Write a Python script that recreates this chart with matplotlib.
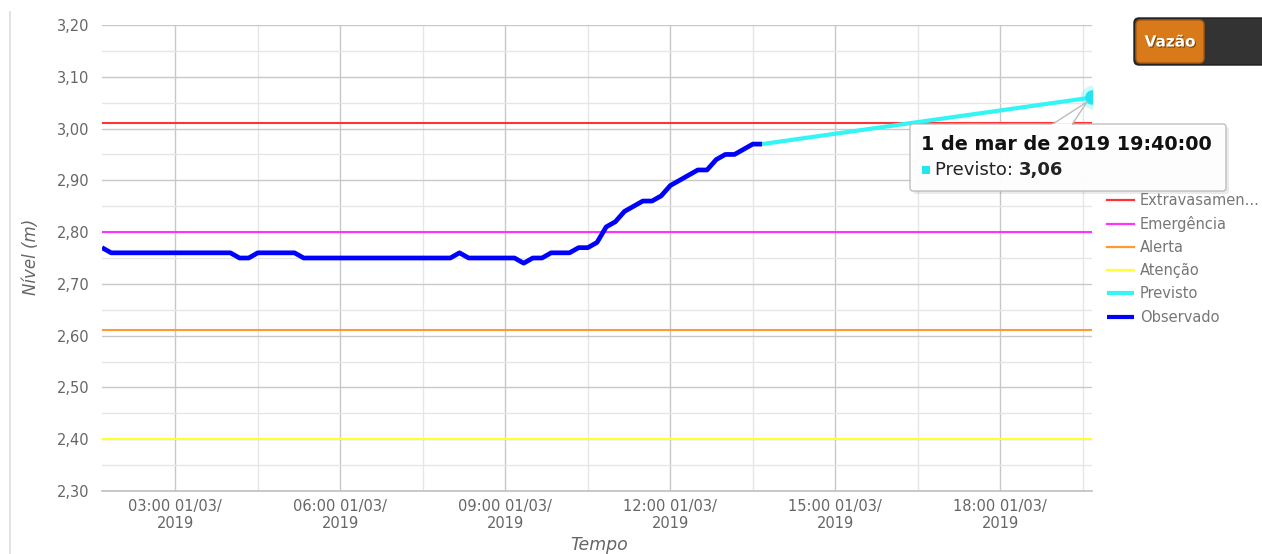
import matplotlib
matplotlib.use("Agg")
import matplotlib.pyplot as plt
from matplotlib.patches import FancyBboxPatch, Polygon
from matplotlib.lines import Line2D
import matplotlib.patheffects as pe
import pandas as pd

# ---------------- data ----------------
obs_start = "2019-03-01 01:40"
obs_freq = "10min"
observado = [
    2.77, 2.76,                                   # 01:40, 01:50
    2.76, 2.76, 2.76, 2.76, 2.76, 2.76,           # 02:00-02:50
    2.76, 2.76, 2.76, 2.76, 2.76, 2.76,           # 03:00-03:50
    2.76, 2.75, 2.75, 2.76, 2.76, 2.76,           # 04:00-04:50
    2.76, 2.76, 2.75, 2.75, 2.75, 2.75,           # 05:00-05:50
    2.75, 2.75, 2.75, 2.75, 2.75, 2.75,           # 06:00-06:50
    2.75, 2.75, 2.75, 2.75, 2.75, 2.75,           # 07:00-07:50
    2.75, 2.76, 2.75, 2.75, 2.75, 2.75,           # 08:00-08:50
    2.75, 2.75, 2.74, 2.75, 2.75, 2.76,           # 09:00-09:50
    2.76, 2.76, 2.77, 2.77, 2.78, 2.81,           # 10:00-10:50
    2.82, 2.84, 2.85, 2.86, 2.86, 2.87,           # 11:00-11:50
    2.89, 2.90, 2.91, 2.92, 2.92, 2.94,           # 12:00-12:50
    2.95, 2.95, 2.96, 2.97, 2.97,                 # 13:00-13:40
]
previsto_times = ["2019-03-01 13:40", "2019-03-01 19:40"]
previsto = [2.97, 3.06]

limiares_nomes = ["Extravasamen...", "Emergência", "Alerta", "Atenção"]
limiares_valores = [3.01, 2.80, 2.61, 2.40]
limiares_cores = ["#ff3333", "#ff33ff", "#ff9933", "#ffff33"]

x_range = ["2019-03-01 01:40", "2019-03-01 19:40"]
y_range = [2.30, 3.20]
xticks = ["2019-03-01 03:00", "2019-03-01 06:00", "2019-03-01 09:00",
          "2019-03-01 12:00", "2019-03-01 15:00", "2019-03-01 18:00"]
xtick_labels = ["03:00 01/03/\n2019", "06:00 01/03/\n2019", "09:00 01/03/\n2019",
                "12:00 01/03/\n2019", "15:00 01/03/\n2019", "18:00 01/03/\n2019"]
xminor = ["2019-03-01 04:30", "2019-03-01 07:30", "2019-03-01 10:30",
          "2019-03-01 13:30", "2019-03-01 16:30", "2019-03-01 19:30"]
yticks = [2.30, 2.40, 2.50, 2.60, 2.70, 2.80, 2.90, 3.00, 3.10, 3.20]
yminor = [2.35, 2.45, 2.55, 2.65, 2.75, 2.85, 2.95, 3.05, 3.15]

# ---------------- figure ----------------
W, H = 1262, 554
plt.rcParams["font.family"] = ["DejaVu Sans"]
fig = plt.figure(figsize=(W / 100, H / 100), dpi=100)

ax = fig.add_axes([102 / W, 1 - 491 / H, (1092 - 102) / W, (491 - 25) / H])
obs_t = pd.date_range(obs_start, periods=len(observado), freq=obs_freq)
prev_t = pd.to_datetime(previsto_times)

ax.set_xlim(pd.to_datetime(x_range[0]), pd.to_datetime(x_range[1]))
ax.set_ylim(*y_range)

# grid
ax.set_yticks(yticks)
ax.set_yticks(yminor, minor=True)
ax.set_yticklabels([f"{v:.2f}".replace(".", ",") for v in yticks])
ax.set_xticks(pd.to_datetime(xticks))
ax.set_xticks(pd.to_datetime(xminor), minor=True)
ax.set_xticklabels(xtick_labels, linespacing=1.15)
ax.grid(which="major", color="#c8c8c8", linewidth=1.0, zorder=0)
ax.grid(which="minor", color="#e6e6e6", linewidth=1.0, zorder=0)
ax.set_axisbelow(True)
ax.tick_params(which="both", length=0)
ax.tick_params(axis="y", pad=9, labelsize=10.5, labelcolor="#666666")
ax.tick_params(axis="x", pad=6, labelsize=10.5, labelcolor="#666666")
for s in ["top", "right", "left"]:
    ax.spines[s].set_visible(False)
ax.spines["bottom"].set_color("#c0c0c0")
ax.spines["bottom"].set_linewidth(1.2)

# threshold lines
handles = []
for nome, val, cor in zip(limiares_nomes, limiares_valores, limiares_cores):
    h = ax.axhline(val, color=cor, linewidth=1.5, zorder=2, label=nome)
    handles.append(h)

# series
hp, = ax.plot(prev_t, previsto, color="#33f5f5", linewidth=3.0, zorder=3,
              solid_capstyle="butt", label="Previsto")
ax.plot(prev_t[-1:], previsto[-1:], "o", color="#33f5f5", markersize=17,
        alpha=0.25, zorder=4, markeredgewidth=0)
ax.plot(prev_t[-1:], previsto[-1:], "o", color="#22e5f0", markersize=10.5,
        zorder=5, markeredgewidth=0)
ho, = ax.plot(obs_t, observado, color="#0000ff", linewidth=3.4, zorder=4,
              solid_joinstyle="round", solid_capstyle="butt", label="Observado")
handles += [hp, ho]

ax.set_ylabel("Nível (m)", fontsize=12, color="#666666", style="italic")
ax.set_xlabel("Tempo", fontsize=12.5, color="#666666", style="italic")
ax.yaxis.set_label_coords(-0.063, 0.503)
ax.xaxis.set_label_coords(0.502, -0.097)

leg = fig.legend(handles=handles, loc="upper left",
                 bbox_to_anchor=(1101 / W, 1 - 187 / H), frameon=False,
                 fontsize=10.5, handlelength=1.85, handletextpad=0.4,
                 labelspacing=0.56, borderaxespad=0)
for t in leg.get_texts():
    t.set_color("#777777")
for lh in leg.get_lines():
    if lh.get_label() in ("Previsto", "Observado"):
        lh.set_linewidth(3.0)
    else:
        lh.set_linewidth(1.6)

# ---------------- overlay (tooltip, button, border) ----------------
ov = fig.add_axes([0, 0, 1, 1], facecolor="none")
ov.set_xlim(0, W)
ov.set_ylim(H, 0)
ov.axis("off")

ov.add_line(Line2D([10, 10], [12, H], color="#dddddd", linewidth=1.2))

# tooltip
ov.add_patch(FancyBboxPatch((913, 127), 316, 67, boxstyle="round,pad=0,rounding_size=3",
                            facecolor="#000000", alpha=0.08, edgecolor="none", zorder=8))
ov.add_patch(FancyBboxPatch((910, 124), 316, 67, boxstyle="round,pad=0,rounding_size=3",
                            facecolor="white", alpha=0.95, edgecolor="#bbbbbb",
                            linewidth=1.0, zorder=9))
ov.add_patch(Polygon([[1052, 124.5], [1087, 102], [1072, 124.5]], closed=True,
                     facecolor="white", edgecolor="#bbbbbb", linewidth=1.0, zorder=9))
ov.add_line(Line2D([1053, 1071], [124.5, 124.5], color="white", linewidth=1.5, zorder=10))

t_last = prev_t[-1]
meses = ["jan", "fev", "mar", "abr", "mai", "jun", "jul", "ago", "set", "out", "nov", "dez"]
titulo = f"{t_last.day} de {meses[t_last.month - 1]} de {t_last.year} {t_last:%H:%M:%S}"
ov.text(921, 144, titulo, fontsize=13.8, fontweight="bold", color="#111111",
        va="center", ha="left", zorder=11)
ov.add_patch(plt.Rectangle((922, 166), 8, 8, facecolor="#22e5f0", edgecolor="none", zorder=11))
tp = ov.text(935, 170, "Previsto: ", fontsize=13, color="#222222", va="center",
             ha="left", zorder=11)
fig.canvas.draw()
bb = tp.get_window_extent()
ov.text(bb.x1, H - 170, f"{previsto[-1]:.2f}".replace(".", ","), fontsize=13,
        fontweight="bold", color="#222222", va="center", ha="left", zorder=11,
        transform=None)

# Vazão button
ov.add_patch(FancyBboxPatch((1134, 18), 140, 47, boxstyle="round,pad=0,rounding_size=5",
                            facecolor="#333333", edgecolor="#1e1e1e", linewidth=1.0, zorder=8))
ov.add_patch(FancyBboxPatch((1136, 20), 68, 43, boxstyle="round,pad=0,rounding_size=5",
                            facecolor="#d87a1a", edgecolor="#a85a10", linewidth=1.0, zorder=9))
ov.text(1170, 42, "Vazão", fontsize=11, fontweight="bold", color="white",
        ha="center", va="center", zorder=11,
        path_effects=[pe.withSimplePatchShadow(offset=(0.8, -0.8), shadow_rgbFace="#5a3208",
                                               alpha=0.7)])

fig.savefig("out.png", dpi=100)
